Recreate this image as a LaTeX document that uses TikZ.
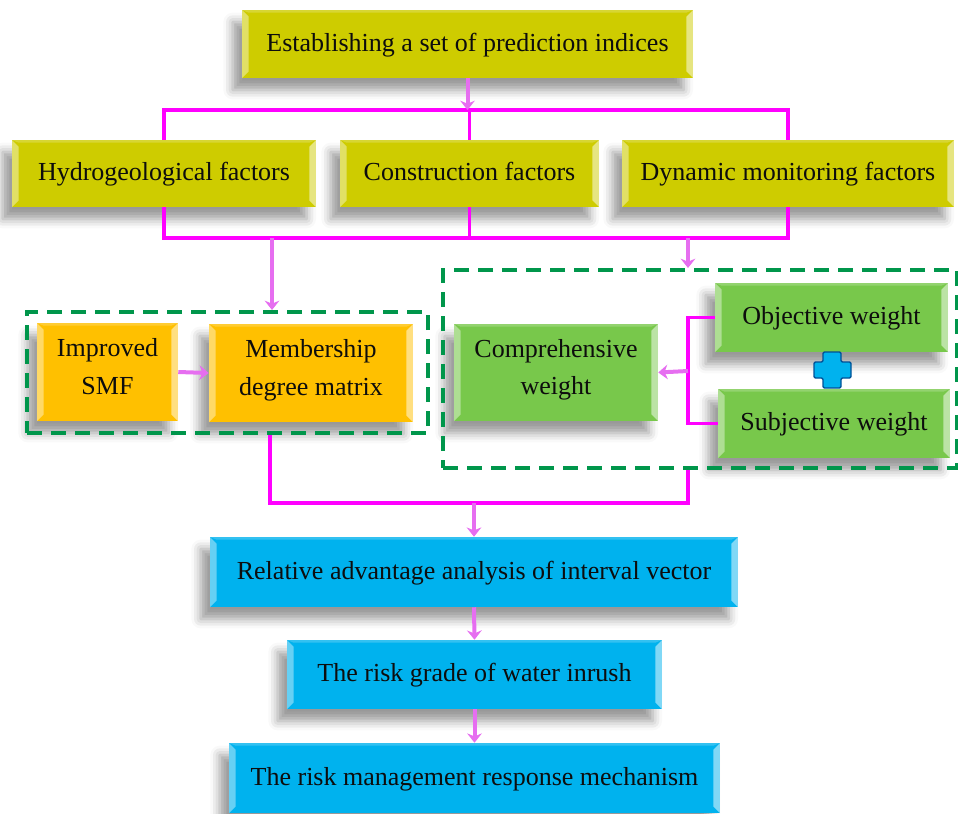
\documentclass[tikz,border=0pt]{standalone}
\usepackage{fontspec}
\setmainfont{Liberation Serif}
\usetikzlibrary{arrows.meta,shadows.blur}
\definecolor{ylw}{RGB}{206,204,0}
\definecolor{org}{RGB}{255,192,0}
\definecolor{grn}{RGB}{120,200,75}
\definecolor{blu}{RGB}{0,178,238}
\definecolor{dblu}{RGB}{0,80,150}
\definecolor{dgrn}{RGB}{0,150,75}
\definecolor{mag}{RGB}{255,0,255}
\definecolor{pnk}{RGB}{230,110,240}
\tikzset{
  box/.style={rectangle, inner sep=0pt, align=center, text=black!95,
    font=\fontsize{19.5pt}{28pt}\selectfont,
    execute at begin node=\strut,
    blur shadow={shadow xshift=-7pt, shadow yshift=-9pt, shadow blur radius=7pt, shadow opacity=40},
    path picture={
      \fill[white,opacity=.4] (path picture bounding box.north west) -- ([xshift=5pt,yshift=-5pt]path picture bounding box.north west) -- ([xshift=5pt,yshift=5pt]path picture bounding box.south west) -- (path picture bounding box.south west) -- cycle;
      \fill[white,opacity=.5] (path picture bounding box.north east) -- ([xshift=-5pt,yshift=-5pt]path picture bounding box.north east) -- ([xshift=-5pt,yshift=5pt]path picture bounding box.south east) -- (path picture bounding box.south east) -- cycle;
      \fill[white,opacity=.2] (path picture bounding box.north west) -- ([xshift=5pt,yshift=-2pt]path picture bounding box.north west) -- ([xshift=-5pt,yshift=-2pt]path picture bounding box.north east) -- (path picture bounding box.north east) -- cycle;
    }},
  ybox/.style={box, fill=ylw},
  obox/.style={box, fill=org},
  gbox/.style={box, fill=grn},
  bbox/.style={box, fill=blu},
  dbox/.style={draw=dgrn, line width=3pt, dash pattern=on 11pt off 7pt, inner sep=0pt},
  ln/.style={mag, line width=2.6pt},
  arr/.style={pnk, line width=3pt, -{Stealth[length=7pt,width=11pt]}},
}
\begin{document}
\begin{tikzpicture}[x=0.75pt,y=-0.75pt]
\useasboundingbox (0,0) rectangle (958,814);

% boxes
\node[ybox, minimum width=338.25pt, minimum height=51pt] (est) at (467.5,44) {Establishing a set of prediction indices};
\node[ybox, minimum width=228pt, minimum height=50.25pt] (hyd) at (164,173.5) {Hydrogeological factors};
\node[ybox, minimum width=194.25pt, minimum height=50.25pt] (con) at (469.5,173.5) {Construction factors};
\node[ybox, minimum width=249pt, minimum height=50.25pt] (dyn) at (788,173.5) {Dynamic monitoring factors};

\node[obox, minimum width=105.75pt, minimum height=73.5pt] (smf) at (107.5,372) {Improved\\\strut SMF};
\node[obox, minimum width=153pt, minimum height=73.5pt] (mem) at (311,373) {Membership\\\strut degree matrix};

\node[gbox, minimum width=153pt, minimum height=72.75pt] (com) at (556,372.5) {Comprehensive\\\strut weight};
\node[gbox, minimum width=174.75pt, minimum height=51.75pt] (obj) at (831.5,317.5) {Objective weight};
\node[gbox, minimum width=174pt, minimum height=51.75pt] (sub) at (834,423.5) {Subjective weight};

\node[bbox, minimum width=396pt, minimum height=52.5pt] (rel) at (474,572) {Relative advantage analysis of interval vector};
\node[bbox, minimum width=281.25pt, minimum height=51.75pt] (grd) at (474.5,674.5) {The risk grade of water inrush};
\node[bbox, minimum width=368.25pt, minimum height=52.5pt] (mgt) at (474.5,778) {The risk management response mechanism};

% dashed groups
\node[dbox, minimum width=300.75pt, minimum height=90.75pt] (dl) at (227.5,372.5) {};
\node[dbox, minimum width=385.5pt, minimum height=148.5pt] (dr) at (700,369) {};

% plus sign
\draw[fill=blu, draw=dblu, line width=1pt, rounded corners=1pt]
  (823,352) -- (841,352) -- (841,362) -- (851,362) -- (851,378) -- (841,378) -- (841,388)
  -- (823,388) -- (823,378) -- (814,378) -- (814,362) -- (823,362) -- cycle;

% coordinates
\coordinate (b1) at (468,110);
\coordinate (b2) at (468,238);
\coordinate (a1) at (272,238);
\coordinate (a2) at (688,238);
\coordinate (brk) at (688,371);
\coordinate (l1) at (270,503);
\coordinate (r1) at (688,503);

% top fan-out
\draw[ln] (hyd.north) -- (hyd.north |- b1) -- (dyn.north |- b1) -- (dyn.north);
\draw[ln] (con.north |- b1) -- (con.north);
\draw[arr] (est.south) -- (est.south |- b1);

% fan-in
\draw[ln] (hyd.south) -- (hyd.south |- b2) -- (dyn.south |- b2) -- (dyn.south);
\draw[ln] (con.south) -- (con.south |- b2);
\draw[arr] (a1) -- (dl.north -| a1);
\draw[arr] (a2) -- (dr.north -| a2);

% inside groups
\draw[arr] (smf.east) -- (mem.west);
\draw[ln] (obj.west) -| (brk) |- (sub.west);
\draw[arr] (brk) -- (com.east);

% bottom merge
\draw[ln] (dl.south -| l1) -- (l1) -- (r1) -- (dr.south -| r1);
\draw[arr] (rel.north |- l1) -- (rel.north);
\draw[arr] (rel.south) -- (grd.north);
\draw[arr] (grd.south) -- (mgt.north);
\end{tikzpicture}
\end{document}
